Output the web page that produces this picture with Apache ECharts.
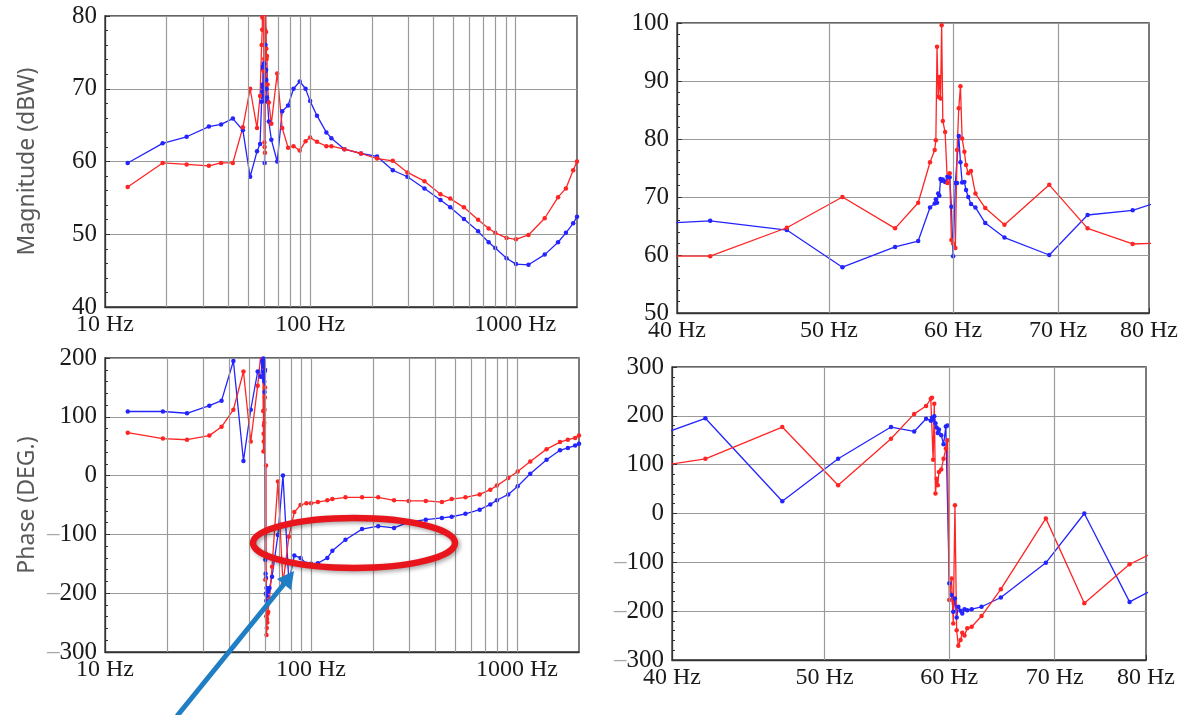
<!DOCTYPE html>
<html>
<head>
<meta charset="utf-8">
<script src="https://cdn.jsdelivr.net/npm/echarts@6/dist/echarts.min.js"></script>
<style>
  html, body { margin: 0; padding: 0; background: #fff; }
  #echarts_container { width: 1181px; height: 715px; }
</style>
</head>
<body>
<div id="echarts_container"></div>
<script>
// measurement frequencies (Hz), shared by all four curves
var freq = [12.9, 19.1, 25, 32.1, 36.8, 42, 47, 51, 55.1, 57,
  58, 58.4, 58.5, 58.6, 58.7, 58.8, 58.9, 59, 59.1, 59.3,
  59.5, 59.7, 59.85, 60, 60.2, 60.35, 60.5, 60.65, 60.8, 61,
  61.15, 61.35, 61.6, 62, 62.9, 64.7, 69.1, 73.1, 78.1, 83,
  89, 95, 100, 108, 120, 127, 147, 177, 212, 253,
  298, 361, 432, 482, 562, 659, 742, 799, 907, 1008,
  1160, 1392, 1617, 1766, 1916, 2000];

// magnitude (dBW)
var magBlue = [59.8, 62.5, 63.4, 64.8, 65.1, 65.9, 64.3, 57.9, 61.4, 62.4,
  68.2, 68.9, 69.6, 69.0, 70.6, 70.2, 73.1, 72.8, 73.0, 72.6,
  73.5, 73.4, 68.3, 59.8, 72.4, 72.4, 80.5, 76, 72.5, 72.6,
  71.2, 70, 68.8, 68.2, 65.5, 63.0, 60.0, 66.9, 67.7, 70,
  71, 70, 68.3, 66.3, 64, 63.2, 61.7, 61.1, 60.7, 58.8,
  57.9, 56.3, 54.7, 53.7, 52.1, 50.4, 48.9, 48.1, 46.7, 45.9,
  45.8, 47.2, 48.9, 50.2, 51.5, 52.4];
var magRed = [56.5, 59.8, 59.6, 59.4, 59.8, 59.8, 64.7, 70.0, 64.6, 69.0,
  76.0, 78.1, 79.8, 95.9, 87.3, 90.7, 87, 99.6, 83.1, 81.2,
  72.4, 74.1, 62.6, 62.0, 61.2, 78.1, 85.3, 89.1, 80.1, 77.8,
  75.5, 74.1, 74.5, 70.6, 68.1, 65.2, 72.1, 64.6, 61.9, 62.1,
  61.5, 62.8, 63.3, 62.7, 62.1, 62.1, 61.7, 61.1, 60.4, 60.1,
  58.5, 57.3, 55.5, 54.9, 53.7, 52.0, 50.8, 50.2, 49.5, 49.3,
  49.9, 52.2, 55.1, 56.3, 58.8, 60.0];

// phase (deg)
var phaseBlue = [109, 109, 106, 119, 127.5, 195, 25, 112, 177, 168,
  194, 190, 196, 192, 199, 185, 176, 165, 172, 160,
  142, 178, 180, -143, -167, -201, -174, -213, -191, -199,
  -205, -196, -198, -196, -191, -172, -101, 0, -181, -136,
  -140, -150, -150, -149, -140, -128, -109, -91, -86, -89,
  -79, -75, -72, -70, -65, -58, -49, -42, -32, -18,
  3, 27, 43, 47, 51, 54];
var phaseRed = [73, 63, 61, 68, 83, 112, 177, 58, 153, 204,
  220, 235, 237, 110, 225, 41, 71, 58, 85, 90,
  112, 133, 150, -177, -133, -225, 17, -239, -271, -259,
  -244, -250, -235, -232, -210, -155, -10, -184, -104, -62,
  -50, -47, -47, -45, -42, -40, -37, -37, -37, -42,
  -43, -43, -45, -40, -37, -32, -24, -17, -4, 7,
  24, 45, 57, 61, 64, 68];

// axis ticks / grid lines
var wideTicks = [10, 100, 1000];
var wideGrid = [20, 30, 40, 50, 60, 70, 80, 90, 100, 200, 300, 400, 500, 600, 700, 800, 900, 1000];
var zoomTicks = [40, 50, 60, 70, 80];
var zoomGrid = [50, 60, 70];

var chartDom = document.getElementById('echarts_container');
var myChart = echarts.init(chartDom);

var serif = "'Liberation Serif', 'Times New Roman', serif";
var sans = "'Noto Sans', 'Open Sans', sans-serif";
var frame = '#333';
var blueC = '#2424ff';
var redC = '#ff2525';

function pairs(ys) {
  return freq.map(function (f, i) { return [f, ys[i]]; });
}

function xAxisFor(idx, min, max, ticks) {
  return {
    type: 'log', logBase: 10, gridIndex: idx, min: min, max: max,
    axisLine: { show: true, onZero: false, lineStyle: { color: frame, width: 1.3 } },
    axisTick: { show: true, inside: true, length: 5, customValues: ticks, lineStyle: { color: frame } },
    axisLabel: {
      customValues: ticks, margin: 6, fontFamily: serif, fontSize: 24, color: '#1a1a1a',
      formatter: function (v) { return Math.round(v) + ' Hz'; }
    },
    splitLine: { show: false }
  };
}

function yAxisFor(idx, min, max, step, name) {
  return {
    type: 'value', gridIndex: idx, min: min, max: max, interval: step,
    name: name, nameLocation: 'middle', nameGap: 66,
    nameTextStyle: { fontFamily: sans, fontSize: 23, color: '#595959' },
    axisLine: { show: true, onZero: false, lineStyle: { color: frame, width: 1.3 } },
    axisTick: { show: true, inside: true, length: 5, lineStyle: { color: frame } },
    minorTick: { show: true, splitNumber: 5, length: 3, lineStyle: { color: frame } },
    splitLine: { show: true, lineStyle: { color: '#9a9a9a', width: 1.2 } },
    axisLabel: {
      margin: 8, fontFamily: serif, fontSize: 25, color: '#1a1a1a',
      formatter: function (v) { return v < 0 ? '{m|–}' + (-v) : '' + v; },
      rich: { m: { fontFamily: serif, fontSize: 25, color: '#a8a8a8' } }
    }
  };
}

function gridLines(idx, vals) {
  return {
    type: 'line', xAxisIndex: idx, yAxisIndex: idx, data: [], z: 1, silent: true,
    markLine: {
      silent: true, symbol: ['none', 'none'], label: { show: false }, animation: false,
      lineStyle: { color: '#9a9a9a', width: 1.2, type: 'solid' },
      data: vals.map(function (v) { return { xAxis: v }; })
    }
  };
}

function curve(idx, ys, color) {
  return {
    type: 'line', xAxisIndex: idx, yAxisIndex: idx, data: pairs(ys), z: 3, clip: true,
    symbol: 'circle', symbolSize: 4.5, showSymbol: true,
    itemStyle: { color: color }, lineStyle: { color: color, width: 1.3 }
  };
}

var gridBox = { show: true, borderColor: frame, borderWidth: 1.3, backgroundColor: 'transparent' };

var option = {
  animation: false,
  backgroundColor: '#fff',
  grid: [
    Object.assign({ left: 105, top: 16, width: 472, height: 291 }, gridBox),
    Object.assign({ left: 677, top: 23, width: 473, height: 290 }, gridBox),
    Object.assign({ left: 105, top: 358, width: 474, height: 294 }, gridBox),
    Object.assign({ left: 672, top: 367, width: 474, height: 293 }, gridBox)
  ],
  xAxis: [
    xAxisFor(0, 10, 2000, wideTicks),
    xAxisFor(1, 40, 80, zoomTicks),
    xAxisFor(2, 10, 2000, wideTicks),
    xAxisFor(3, 40, 80, zoomTicks)
  ],
  yAxis: [
    yAxisFor(0, 40, 80, 10, 'Magnitude (dBW)'),
    yAxisFor(1, 50, 100, 10, ''),
    yAxisFor(2, -300, 200, 100, 'Phase (DEG.)'),
    yAxisFor(3, -300, 300, 100, '')
  ],
  series: [
    gridLines(0, wideGrid), curve(0, magBlue, blueC), curve(0, magRed, redC),
    gridLines(1, zoomGrid), curve(1, magBlue, blueC), curve(1, magRed, redC),
    gridLines(2, wideGrid), curve(2, phaseBlue, blueC), curve(2, phaseRed, redC),
    gridLines(3, zoomGrid), curve(3, phaseBlue, blueC), curve(3, phaseRed, redC)
  ],
  graphic: [
    {
      type: 'ellipse', z: 10,
      shape: { cx: 354, cy: 543, rx: 101, ry: 25 },
      style: {
        fill: 'none', stroke: '#e8161c', lineWidth: 6.5,
        shadowBlur: 4, shadowColor: 'rgba(0,0,0,0.35)', shadowOffsetX: 2, shadowOffsetY: 2
      }
    },
    {
      type: 'line', z: 10,
      shape: { x1: 177, y1: 716, x2: 284, y2: 584 },
      style: { stroke: '#1f7ec4', lineWidth: 5 }
    },
    {
      type: 'polygon', z: 10,
      shape: { points: [[294, 571], [291, 590], [277, 579]] },
      style: { fill: '#1f7ec4' }
    }
  ]
};

option && myChart.setOption(option);
</script>
</body>
</html>
